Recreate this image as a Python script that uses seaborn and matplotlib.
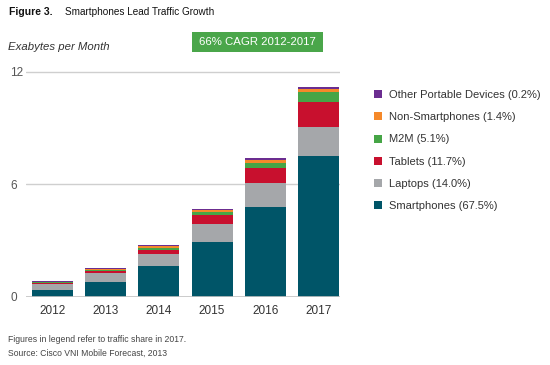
import numpy as np
import pandas as pd
import matplotlib
matplotlib.use('Agg')
import matplotlib.pyplot as plt
from matplotlib.patches import Patch, Rectangle
import seaborn as sns

# data (exabytes per month, per segment)
years = ['2012', '2013', '2014', '2015', '2016', '2017']
smartphones = [0.36, 0.80, 1.62, 2.90, 4.80, 7.50]
laptops = [0.32, 0.48, 0.66, 0.96, 1.28, 1.53]
tablets = [0.06, 0.09, 0.21, 0.48, 0.80, 1.34]
m2m = [0.04, 0.05, 0.12, 0.18, 0.27, 0.53]
non_smartphones = [0.03, 0.05, 0.09, 0.08, 0.16, 0.16]
other_portable = [0.03, 0.04, 0.05, 0.06, 0.09, 0.10]

categories = ['Smartphones (67.5%)', 'Laptops (14.0%)', 'Tablets (11.7%)',
              'M2M (5.1%)', 'Non-Smartphones (1.4%)',
              'Other Portable Devices (0.2%)']
colors = ['#005568', '#a5a7aa', '#c8102e', '#46a546', '#f5892a', '#6b2d90']

df = pd.DataFrame({'year': years,
                   categories[0]: smartphones,
                   categories[1]: laptops,
                   categories[2]: tablets,
                   categories[3]: m2m,
                   categories[4]: non_smartphones,
                   categories[5]: other_portable})
cum = df[categories].cumsum(axis=1)
cum['year'] = df['year']

sns.set_style('white')
plt.rcParams['font.family'] = ['Liberation Sans', 'DejaVu Sans']

fig = plt.figure(figsize=(5.5, 3.65), dpi=100)
W, H = 550.0, 365.0
ax = fig.add_axes([26 / W, (365 - 296.7) / H, 314 / W, 12.3 * 18.75 / H])

# stacked bars: draw cumulative totals from the top segment down
for cat, col in reversed(list(zip(categories, colors))):
    sns.barplot(data=cum, x='year', y=cat, color=col, width=0.77,
                linewidth=0, saturation=1, ax=ax, zorder=3)

ax.set_xlim(-0.49, 5.40)
ax.set_ylim(0, 12.3)
ax.set_yticks([0, 6, 12])
ax.set_yticklabels(['0', '6', '12'])
ax.yaxis.grid(True, color='#cfcfcf', linewidth=1.0, zorder=0)
ax.set_axisbelow(True)
for s in ax.spines.values():
    s.set_visible(False)
ax.axhline(0, color='#c4c4c4', linewidth=1.2, zorder=4)
ax.set_xlabel('')
ax.set_ylabel('')
ax.tick_params(axis='y', length=0, pad=11.5, labelsize=8.5, labelcolor='#555555')
for lab in ax.get_yticklabels():
    lab.set_horizontalalignment('left')
ax.tick_params(axis='x', length=0, pad=6, labelsize=8.5, labelcolor='#333333')

# legend
handles = [Patch(facecolor=c, edgecolor='none', label=l)
           for l, c in zip(categories, colors)]
fig.legend(handles=handles[::-1], loc='upper left',
           bbox_to_anchor=(364 / W, 1 - 80 / H), frameon=False,
           fontsize=8, handlelength=0.75, handleheight=0.75,
           handletextpad=0.6, labelspacing=1.1, labelcolor='#333333')

# titles and notes
fig.text(9 / W, 1 - 12 / H, 'Figure 3.', fontsize=7.5, fontweight='bold',
         va='center', color='#111111')
fig.text(65 / W, 1 - 12 / H, 'Smartphones Lead Traffic Growth', fontsize=7.2,
         va='center', color='#111111')
fig.text(8 / W, 1 - 47 / H, 'Exabytes per Month', fontsize=8.2,
         style='italic', va='center', color='#333333')

fig.add_artist(Rectangle((192 / W, 1 - 52 / H), 131 / W, 20 / H,
                         transform=fig.transFigure, facecolor='#4aa64a',
                         edgecolor='none'))
fig.text(257.5 / W, 1 - 42 / H, '66% CAGR 2012-2017', fontsize=8.2,
         color='white', ha='center', va='center')

fig.text(8 / W, 1 - 339 / H, 'Figures in legend refer to traffic share in 2017.',
         fontsize=6.2, va='center', color='#444444')
fig.text(8 / W, 1 - 353 / H, 'Source: Cisco VNI Mobile Forecast, 2013',
         fontsize=6.2, va='center', color='#444444')

fig.savefig('out.png', dpi=100)
